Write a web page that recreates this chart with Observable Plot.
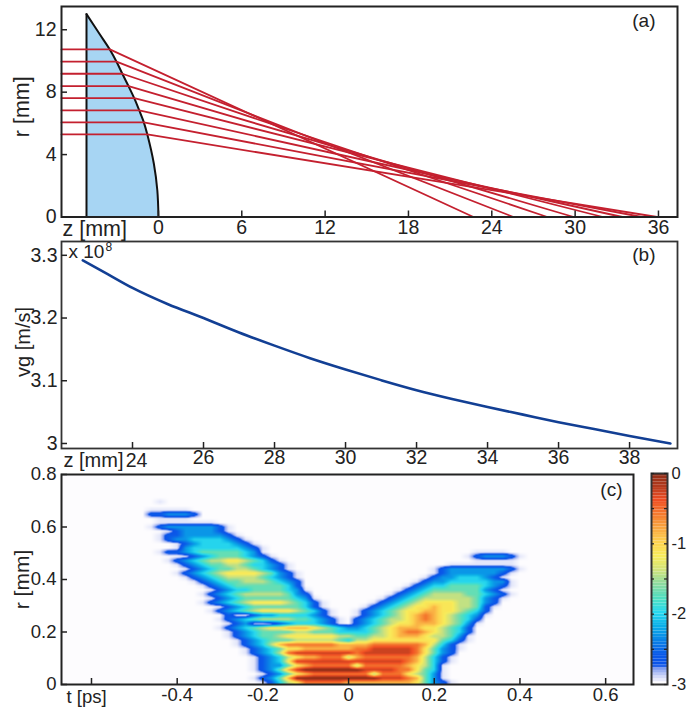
<!DOCTYPE html>
<html><head><meta charset="utf-8">
<script src="https://cdn.jsdelivr.net/npm/d3@7"></script>
<script src="https://cdn.jsdelivr.net/npm/@observablehq/plot@0.6"></script>
<style>
html,body{margin:0;padding:0;background:#fff;overflow:hidden}
#wrap{position:relative;width:686px;height:709px;overflow:hidden}
#wrap>div{position:absolute}
svg{display:block;overflow:visible}
</style></head><body><div id="wrap"></div>
<script>
// Panel (a)
const lensZ=[-5.18,-4.25,-3.46,-3.0,-2.6,-2.14,-1.72,-1.38,-1.1,-0.8,-0.33,-0.08,0];
const lensR=[13,11.74,10.67,9.92,9.18,8.36,7.57,6.83,6.19,5.29,3.41,1.7,0];
const rayR=[10.74,9.96,9.18,8.39,7.62,6.83,6.06,5.29];
const rayHitZ=[-3.5,-3.02,-2.6,-2.15,-1.74,-1.38,-1.05,-0.8];
const rayEndZ=[22.68,25.56,28.0,29.9,32.0,33.4,34.8,35.9];
const aTicksX=[0,6,12,18,24,30,36];
const aTicksY=[0,4,8,12];
// Panel (b)
const vgZ=[22.6,23.3,24,25,26,27,28,29,30,31,32,33,34,35,36,37,38,39.15];
const vgV=[3.292,3.27,3.248,3.222,3.2,3.177,3.156,3.136,3.118,3.101,3.085,3.071,3.058,3.046,3.034,3.023,3.012,3.0];
const bTicksX=[24,26,28,30,32,34,36,38];
const bLabelsX=[26,28,30,32,34,36,38];
const bTicksY=[3,3.1,3.2,3.3];
// Panel (c): log10 intensity, top row r=0.70 to bottom r=0, left t=-0.48 to right t=0.40.
// "." = -3, "," = -2.95, digit d = -2.6 + 0.29 d (9 is clamped at 0 by the scale's domain)
const heatRows=[
"..,.. ..... ..... ..... ..... ..... ..... ..... .....",
"..... ..... ..... ..... ..... ..... ..... ..... .....",
".,,,, ,.... ..... ..... ..... ..... ..... ..... .....",
".0011 10... ..... ..... ..... ..... ..... ..... .....",
"..,,, ,.... ..... ..... ..... ..... ..... ..... .....",
"..,,, ,,,,. ..... ..... ..... ..... ..... ..... .....",
".,011 11110 ,.... ..... ..... ..... ..... ..... .....",
"...,0 11110 ,.... ..... ..... ..... ..... ..... .....",
"..,00 11111 0,... ..... ..... ..... ..... ..... .....",
"..,01 12222 10,.. ..... ..... ..... ..... ..... .....",
"...., 01222 210,. ..... ..... ..... ..... ..... .....",
"...., 12222 2210, ..... ..... ..... ..... ..... .....",
"..,00 12333 3321, ..... ..... ..... ..... ...., ,,,..",
"..... ,0123 33210 ,.... ..... ..... ..... ...,0 1110,",
"...,0 12344 55432 0,... ..... ..... ..... ...., ,,,,.",
"...., 01233 44322 10,.. ..... ..... ..... .,,,, ,,,,.",
"..... ,0123 34432 10,.. ..... ..... ...., 01111 1110,",
"...., 01234 55554 310,. ..... ..... ...., 01111 110,.",
"..... ,0123 44443 210,. ..... ..... ...,0 11222 10,..",
"..... .,012 33444 3210. ..... ..... ..,01 12222 211,.",
"..... ..,01 23333 3320. ..... ..... .,012 23333 210,.",
"..... ...,0 12233 3321, ..... ..... ,0123 33333 10,..",
"..... ..,01 23444 44310 ..... ...., 01234 44433 210,.",
"..... ...,0 12333 33321 ,.... ...,0 12344 44443 10,..",
"..... ..,01 23455 55432 0,... ..,01 23455 55443 10...",
"..... ...., 01233 33332 0,... .,012 34556 55443 0,...",
"..... ...,0 12345 55543 20,.. ,0123 45566 55432 0....",
"..... ..... 0,.01 12222 10,.. ,0123 45676 54321 ,....",
"..... ...., 01234 44433 210,. 01234 45676 54320 .....",
"..... ..... ,01,. ,0122 210,. 01234 55666 5431, .....",
"..... ...., 01234 55666 54321 12345 66655 4320. .....",
"..... ..... ,0123 33344 33322 22345 67765 4320. .....",
"..... ..... ,0123 34555 55544 33445 66654 431,. .....",
"..... ..... .,012 33344 44432 44555 55555 320,. .....",
"..... ..... .,012 46777 77766 66777 77764 20,.. .....",
"..... ..... ..,01 23556 66666 77888 88753 10,.. .....",
"..... ..... ..,01 24788 88888 78888 88753 10... .....",
"..... ..... ...,0 12456 67774 67777 77642 0,... .....",
"..... ..... ...,0 12588 88888 88888 87642 0,... .....",
"..... ..... ...,0 11356 77777 47777 76542 ,.... .....",
"..... ..... ...,0 13689 99999 98888 77532 ,.... .....",
"..... ..... ...., 01356 77777 77477 75431 ,.... .....",
"..... ..... ...,0 13699 99999 99988 87631 ,.... .....",
"..... ..... ...., 02457 77776 66666 66531 0,... ....."
];
const cTicksX=[-0.6,-0.4,-0.2,0,0.2,0.4,0.6];
const cLabelsX=[-0.4,-0.2,0,0.2,0.4,0.6];
const cTicksY=[0,0.2,0.4,0.6,0.8];
const colorDomain=[-3,-2.9,-2.8,-2.75,-2.6,-2.4,-2.2,-2,-1.8,-1.6,-1.4,-1.2,-1,-0.8,-0.6,-0.4,-0.2,0];
const colorRange=["#fdfcfe","#c8d0f6","#7f9cf0","#0a52e8","#0a5ae8","#0a82e6","#0aaee8","#28d8ee","#4fdfc0","#8cdba0","#cfe27c","#f8ec5a","#fdd24f","#f9a640","#f47a2e","#f04e23","#b23a1e","#8a2a14"];
const barTicks=[-3,-2.5,-2,-1.5,-1,-0.5,0];
const barLabels=[-3,-2,-1,0];

const INK="#222";
const fontOf=s=>s+'px "Liberation Sans", Arial, sans-serif';
const fmt=d=>String(d);
const wrap=document.getElementById("wrap");
function place(el,left,top){const d=document.createElement("div");d.style.left=left+"px";d.style.top=top+"px";d.appendChild(el);wrap.appendChild(d);}

function xTick(vals,h,len=6){return Plot.ruleX(vals,{x:d=>d,insetTop:h-len,stroke:INK,strokeWidth:1.5});}
function yTick(vals,w,len=6){return Plot.ruleY(vals,{y:d=>d,insetRight:w-len,stroke:INK,strokeWidth:1.5});}
function axes(xv,yv,padX,padY){return [
  Plot.axisX(xv,{anchor:"bottom",tickSize:0,tickPadding:padX,label:null,tickFormat:fmt,fill:INK}),
  Plot.axisY(yv,{anchor:"left",tickSize:0,tickPadding:padY,label:null,tickFormat:fmt,fill:INK})
];}

// ---- (a)
const rays=[];
rayR.forEach((r,i)=>{rays.push({id:i,z:-6.98,r},{id:i,z:rayHitZ[i],r},{id:i,z:rayEndZ[i],r:0});});
const lens=lensZ.map((z,i)=>({z,r:lensR[i]}));
place(Plot.plot({
  width:686,height:240,marginLeft:61,marginRight:9,marginTop:6,marginBottom:23.5,
  style:{font:fontOf(19.5),background:"transparent"},
  x:{domain:[-6.98,37.37]},y:{domain:[0,13.49]},
  marks:[
    Plot.areaX(lens,{y:"r",x1:-5.18,x2:"z",fill:"#a7d5f3",curve:"catmull-rom"}),
    Plot.line(lens,{x:"z",y:"r",stroke:"#111",strokeWidth:2,curve:"catmull-rom"}),
    Plot.ruleX([lensZ[0]],{x:d=>d,y1:0,y2:lensR[0],stroke:"#111",strokeWidth:2}),
    Plot.line(rays,{x:"z",y:"r",z:"id",stroke:"#c4202f",strokeWidth:1.8}),
    Plot.frame({stroke:INK,strokeWidth:2}),
    xTick(aTicksX,210.5),yTick(aTicksY,616),
    ...axes(aTicksX,aTicksY,3,5),
    Plot.text(["z [mm]"],{frameAnchor:"bottom-left",lineAnchor:"middle",dx:1,dy:12.5,fontSize:21.5,fill:INK,textAnchor:"start"}),
    Plot.text(["r [mm]"],{frameAnchor:"left",dx:-39,dy:-5,rotate:-90,fontSize:21.5,fill:INK,textAnchor:"middle"}),
    Plot.text(["(a)"],{frameAnchor:"top-right",dx:-22,dy:7,fontSize:19,fill:INK})
  ]
}),0,0);

// ---- (b)
const vg=vgZ.map((z,i)=>({z,v:vgV[i]}));
place(Plot.plot({
  width:686,height:240,marginLeft:61,marginRight:9,marginTop:9,marginBottom:24,
  style:{font:fontOf(19.5),background:"transparent"},
  x:{domain:[22,39.35]},y:{domain:[2.992,3.322]},
  marks:[
    Plot.frame({stroke:"#333",strokeWidth:1.8}),
    xTick(bTicksX,207),yTick(bTicksY,616),
    Plot.line(vg,{x:"z",y:"v",stroke:"#123f94",strokeWidth:2.6,curve:"monotone-x"}),
    ...axes(bLabelsX,bTicksY,2,4),
    Plot.text([24],{x:d=>d,frameAnchor:"bottom",lineAnchor:"middle",dx:4,dy:12.5,fill:INK}),
    Plot.text(["z [mm]"],{frameAnchor:"bottom-left",lineAnchor:"middle",dx:2,dy:12,fontSize:20,fill:INK,textAnchor:"start"}),
    Plot.text(["vg [m/s]"],{frameAnchor:"left",dx:-38,dy:-3,rotate:-90,fontSize:20,fill:INK,textAnchor:"middle"}),
    Plot.text(["x 10"],{frameAnchor:"top-left",dx:7,dy:3,fontSize:19,fill:INK,textAnchor:"start"}),
    Plot.text(["8"],{frameAnchor:"top-left",dx:44,dy:1,fontSize:12,fill:INK,textAnchor:"start"}),
    Plot.text(["(b)"],{frameAnchor:"top-right",dx:-22,dy:6,fontSize:19,fill:INK})
  ]
}),0,232);

// ---- (c)
const heatW=45,heatH=heatRows.length;
const level=ch=>ch==="."?-3:ch===","?-2.95:Math.min(0,-2.6+0.29*(+ch));
const heat=heatRows.map(row=>[...row.replace(/ /g,"")].map(level));
// Smooth shading of the read grid, as the original's interpolated colour map
function shade(t,r){
  const u=(t+0.48)/0.02, v=(0.696-r)/0.016;
  const i=Math.floor(u), j=Math.floor(v), fu=u-i, fv=v-j;
  const at=(a,b)=>{const row=heat[Math.max(0,Math.min(heatH-1,b))];return a<0||a>=heatW||b<0?-3:row[a];};
  const top=at(i,j)*(1-fu)+at(i+1,j)*fu, bot=at(i,j+1)*(1-fu)+at(i+1,j+1)*fu;
  return top*(1-fv)+bot*fv;
}
const colorScale={type:"linear",domain:colorDomain,range:colorRange,clamp:true};
place(Plot.plot({
  width:686,height:244,marginLeft:61,marginRight:53,marginTop:9,marginBottom:25,
  style:{font:fontOf(18.5),background:"transparent"},
  x:{domain:[-0.67,0.665]},y:{domain:[0,0.8]},color:colorScale,
  marks:[
    Plot.raster({x1:-0.67,x2:0.665,y1:0.8,y2:0,pixelSize:1,fill:shade}),
    Plot.frame({stroke:INK,strokeWidth:2}),
    xTick(cTicksX,210),yTick(cTicksY,572),
    ...axes(cLabelsX,cTicksY,3.5,5),
    Plot.text(["t [ps]"],{frameAnchor:"bottom-left",lineAnchor:"middle",dx:5,dy:13,fill:INK,textAnchor:"start"}),
    Plot.text(["r [mm]"],{frameAnchor:"left",dx:-39,rotate:-90,fontSize:21,fill:INK,textAnchor:"middle"}),
    Plot.text(["(c)"],{frameAnchor:"top-right",dx:-11,dy:8,fontSize:19,fill:INK})
  ]
}),0,465);

// ---- colour bar
const barLevels=d3.range(-3,0,0.04);
place(Plot.plot({
  width:46,height:230,marginLeft:11,marginRight:19,marginTop:8,marginBottom:11,
  style:{font:fontOf(16.5),background:"transparent"},
  x:{domain:[0,1],axis:null},y:{domain:[-3,0]},color:colorScale,
  marks:[
    Plot.rect(barLevels,{x1:0,x2:1,y1:d=>d,y2:d=>d+0.04,fill:d=>d}),
    Plot.frame({stroke:"#333",strokeWidth:2}),
    Plot.ruleY(barTicks,{y:d=>d,insetRight:13,stroke:"#222",strokeWidth:1.2}),
    Plot.ruleY(barTicks,{y:d=>d,insetLeft:13,stroke:"#222",strokeWidth:1.2}),
    Plot.axisY(barLabels,{anchor:"right",tickSize:0,tickPadding:4,label:null,tickFormat:fmt,fill:INK})
  ]
}),640,465);
</script></body></html>
